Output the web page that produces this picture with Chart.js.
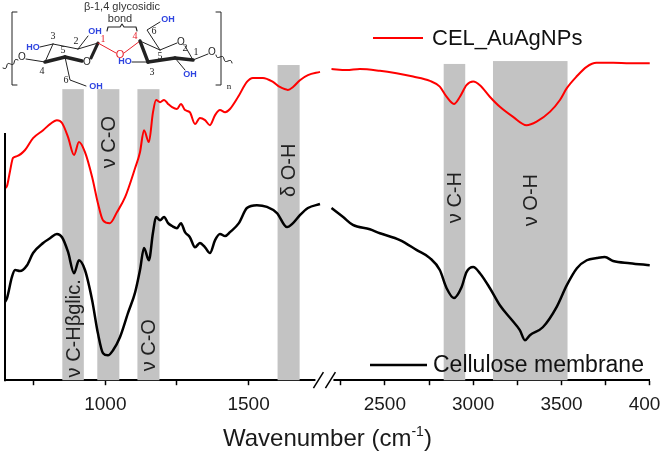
<!DOCTYPE html>
<html>
<head>
<meta charset="utf-8">
<title>FTIR spectra</title>
<script src="https://cdn.jsdelivr.net/npm/chart.js@4.4.0/dist/chart.umd.min.js"></script>
<style>
    html, body { margin: 0; padding: 0; background: #fff; overflow: hidden; }
    #wrap { position: relative; width: 679px; height: 453px; }
</style>
</head>
<body>
<div id="wrap"><canvas id="ftir"></canvas></div>
<script>
// wavenumber (cm-1) and transmittance (a.u., offset)
var redLeftX = [650, 657, 667, 678, 692, 720, 748, 783, 807, 831, 849, 870, 891, 908, 929, 954, 974, 992, 1016, 1041,
    1069, 1104, 1121, 1135, 1152, 1166, 1177, 1191, 1205, 1219, 1233, 1250, 1264, 1278, 1295, 1313, 1330, 1348, 1365,
    1383, 1400, 1418, 1435, 1463, 1494, 1515, 1550, 1585, 1609, 1637, 1655, 1679, 1707, 1749];
var redLeftY = [53.3, 53.9, 57.8, 61.7, 62.2, 63.9, 67.2, 69.4, 71.1, 72.2, 71.4, 67.5, 62.5, 66.1, 63.3, 56.4, 49.2, 44.4, 43.6, 46.7,
    50.8, 58.9, 63.3, 69.4, 66.1, 74.2, 77.8, 77.2, 77.8, 76.7, 75.8, 75.3, 76.7, 75.0, 74.4, 71.1, 72.8, 72.2, 70.8,
    73.6, 75.0, 74.4, 75.3, 78.6, 82.8, 83.9, 83.9, 82.8, 81.4, 80.6, 81.4, 83.3, 84.7, 85.6];

var redRightX = [2198, 2283, 2359, 2472, 2566, 2660, 2755, 2811, 2849, 2891, 2925, 2962, 3000, 3038, 3094, 3151, 3226, 3302,
    3359, 3434, 3491, 3529, 3585, 3642, 3698, 3792, 3887, 4000];
var redRightY = [86.4, 86.1, 86.4, 85.9, 85.2, 84.3, 83.1, 81.5, 78.7, 76.7, 78.7, 81.9, 82.9, 81.9, 78.7, 75.9, 73.1, 70.8,
    71.8, 74.5, 77.8, 81.0, 84.3, 87.0, 88.1, 88.1, 88.0, 88.0];

var blackLeftX = [650, 657, 674, 685, 702, 727, 748, 783, 807, 831, 849, 870, 891, 908, 929, 954, 974, 992, 1009, 1027,
    1051, 1079, 1104, 1121, 1135, 1152, 1166, 1177, 1191, 1205, 1219, 1233, 1250, 1264, 1278, 1295, 1313, 1330, 1348,
    1365, 1383, 1400, 1418, 1435, 1466, 1494, 1529, 1564, 1599, 1634, 1655, 1679, 1707, 1749];
var blackLeftY = [21.7, 22.8, 28.6, 30.6, 30.3, 31.9, 35.3, 38.1, 39.4, 40.6, 39.7, 35.6, 29.7, 33.3, 30.6, 22.2, 13.1, 7.5, 6.9, 8.3,
    11.9, 18.6, 24.4, 30.6, 36.7, 33.3, 40.8, 45.3, 44.4, 45.3, 43.6, 42.8, 42.2, 43.6, 41.1, 39.7, 36.9, 38.1, 36.9,
    35.3, 38.9, 40.6, 40.0, 41.1, 43.6, 47.8, 48.6, 48.1, 46.4, 42.5, 43.6, 45.8, 47.8, 48.9];

var blackRightX = [2198, 2264, 2319, 2415, 2472, 2585, 2681, 2755, 2811, 2849, 2891, 2934, 2962, 3000, 3038, 3094, 3151,
    3219, 3264, 3293, 3321, 3394, 3472, 3530, 3587, 3643, 3700, 3745, 3792, 3887, 4000];
var blackRightY = [47.8, 45.3, 43.1, 41.9, 40.8, 38.9, 36.1, 33.9, 30.6, 25.6, 22.8, 25.8, 30.0, 31.4, 29.7, 25.6, 20.8,
    16.7, 13.9, 11.1, 12.5, 14.7, 20.3, 26.4, 31.1, 33.3, 33.9, 34.2, 33.1, 32.5, 31.9];

var seriesNames = ['CEL_AuAgNPs', 'Cellulose membrane'];

// shaded assignment bands
var bandStart = [850, 972, 1112, 1601, 2833, 3112];
var bandEnd = [925, 1049, 1189, 1678, 2955, 3534];
var bandTop = [80.8, 80.8, 80.8, 87.5, 87.8, 88.6];
var bandLabels = ['ν C-Hβglic.', 'ν C-O', 'ν C-O', 'δ O-H', 'ν C-H', 'ν O-H'];
var bandLabelY = [14.4, 66.1, 9.7, 58.3, 50.7, 50.0];

// broken x axis
var leftRange = [650, 1775];
var rightRange = [2175, 4000];
var leftTicks = [750, 1000, 1250, 1500];
var rightTicks = [2250, 2500, 2750, 3000, 3250, 3500, 3750, 4000];
var labelledTicks = [1000, 1500, 2500, 3000, 3500, 4000];
var yAxisTop = 68.6;

var FONT = '"Liberation Sans", Arial, sans-serif';
var SERIF = '"Liberation Serif", "Times New Roman", serif';

function pts(xs, ys) {
    return xs.map(function (x, i) {
        return { x: x, y: ys[i] };
    });
}

function scaleFor(chart, w) {
    return w < 2000 ? chart.scales.xl : chart.scales.xr;
}

var bandsPlugin = {
    id: 'bands',
    beforeDatasetsDraw: function (chart) {
        var ctx = chart.ctx;
        var y = chart.scales.y;
        ctx.save();
        ctx.fillStyle = '#c3c3c3';
        bandStart.forEach(function (s, i) {
            var xs = scaleFor(chart, s);
            var x0 = xs.getPixelForValue(s);
            var x1 = xs.getPixelForValue(bandEnd[i]);
            var top = y.getPixelForValue(bandTop[i]);
            ctx.fillRect(x0, top, x1 - x0, y.getPixelForValue(0) - top);
        });
        ctx.restore();
    },
    afterDatasetsDraw: function (chart) {
        var ctx = chart.ctx;
        var y = chart.scales.y;
        ctx.save();
        ctx.fillStyle = '#222';
        ctx.font = '20px ' + FONT;
        ctx.textAlign = 'center';
        ctx.textBaseline = 'middle';
        bandLabels.forEach(function (lab, i) {
            var xs = scaleFor(chart, bandStart[i]);
            var cx = (xs.getPixelForValue(bandStart[i]) + xs.getPixelForValue(bandEnd[i])) / 2;
            ctx.save();
            ctx.translate(cx + 1, y.getPixelForValue(bandLabelY[i]));
            ctx.rotate(-Math.PI / 2);
            ctx.fillText(lab, 0, 0);
            ctx.restore();
        });
        ctx.restore();
    }
};

function wavy(ctx, x1, y1, x2, y2) {
    var dx = x2 - x1, dy = y2 - y1, len = Math.sqrt(dx * dx + dy * dy);
    var nx = -dy / len, ny = dx / len;
    ctx.beginPath();
    for (var t = 0; t <= 1.001; t += 0.05) {
        var a = Math.sin(t * Math.PI * 4) * 1.6;
        var px = x1 + dx * t + nx * a, py = y1 + dy * t + ny * a;
        if (t === 0) ctx.moveTo(px, py); else ctx.lineTo(px, py);
    }
    ctx.lineWidth = 1;
    ctx.strokeStyle = '#222';
    ctx.stroke();
}

function drawStructure(ctx) {
    var blue = '#2f45e0', red = '#e8202a', ink = '#222';
    ctx.save();
    ctx.lineCap = 'round';
    ctx.lineJoin = 'round';
    function seg(p, w, c) {
        ctx.beginPath();
        ctx.moveTo(p[0][0], p[0][1]);
        for (var i = 1; i < p.length; i++) ctx.lineTo(p[i][0], p[i][1]);
        ctx.lineWidth = w;
        ctx.strokeStyle = c;
        ctx.stroke();
    }
    function txt(s, x, y, font, c) {
        ctx.font = font;
        ctx.fillStyle = c;
        ctx.textAlign = 'center';
        ctx.textBaseline = 'middle';
        ctx.fillText(s, x, y);
    }
    var oh = 'bold 9px ' + FONT, num = '10px ' + SERIF, at = '10px ' + FONT;

    // brackets
    seg([[17, 12], [12, 12], [12, 85], [17, 85]], 1, ink);
    seg([[216, 12], [221, 12], [221, 85], [216, 85]], 1, ink);
    txt('n', 229, 87, '9px ' + SERIF, ink);
    txt('β-1,4 glycosidic', 122, 7, '11px ' + FONT, '#333');
    txt('bond', 120, 19, '11px ' + FONT, '#333');
    seg([[107, 31], [108, 27], [120, 27], [122, 24], [124, 27], [136, 27], [137, 31]], 1.1, ink);

    // left glucose unit
    var C4 = [45, 62], C3 = [53, 44], C2 = [78, 49], C1 = [98, 43], C5 = [65, 57];
    wavy(ctx, 3, 68, 18, 60);
    txt('O', 22, 57, at, ink);
    seg([[26, 59], C4], 1, ink);
    seg([C4, C3], 1, ink);
    seg([C3, C2], 1, ink);
    seg([C2, C1], 1, ink);
    seg([C4, C5], 3.5, ink);
    seg([C5, [82, 61]], 3.5, ink);
    seg([[91, 58], C1], 3, ink);
    txt('O', 87, 62, at, ink);
    seg([[40, 47], C3], 1, ink);
    txt('HO', 33, 48, oh, blue);
    seg([C2, [88, 36]], 1, ink);
    txt('OH', 95, 32, oh, blue);
    seg([C5, [70, 80], [86, 86]], 1, ink);
    txt('OH', 96, 87, oh, blue);
    txt('3', 53, 36, num, ink);
    txt('2', 76, 41, num, ink);
    txt('5', 63, 50, num, ink);
    txt('4', 42, 71, num, ink);
    txt('6', 66, 80, num, ink);

    // glycosidic bridge
    seg([C1, [116, 53]], 1, red);
    seg([[124, 53], [140, 41]], 1, red);
    txt('O', 120, 55, '11px ' + FONT, red);
    txt('1', 103, 39, num, red);
    txt('4', 135, 36, num, red);

    // right glucose unit
    var D4 = [140, 41], D5 = [160, 50], D1 = [193, 60], D2 = [175, 58], D3 = [148, 62];
    seg([D4, D5], 1, ink);
    seg([D5, [177, 43]], 1, ink);
    seg([[185, 46], D1], 1, ink);
    txt('O', 181, 42, at, ink);
    seg([D4, D3], 3.5, ink);
    seg([D3, D2], 3.5, ink);
    seg([D2, D1], 3.5, ink);
    seg([D1, [208, 54]], 1, ink);
    txt('O', 212, 52, at, ink);
    wavy(ctx, 216, 55, 232, 63);
    seg([D5, [147, 30], [160, 22]], 1, ink);
    txt('OH', 168, 20, oh, blue);
    txt('6', 154, 31, num, ink);
    seg([[132, 62], D3], 1, ink);
    txt('HO', 125, 62, oh, blue);
    seg([D2, [185, 70]], 1, ink);
    txt('OH', 190, 75, oh, blue);
    txt('5', 160, 56, num, ink);
    txt('2', 185, 48, num, ink);
    txt('1', 196, 52, num, ink);
    txt('3', 152, 72, num, ink);
    ctx.restore();
}

var decorPlugin = {
    id: 'decor',
    afterDraw: function (chart) {
        var ctx = chart.ctx;
        var area = chart.chartArea;
        var y = chart.scales.y;
        ctx.save();

        // partial y axis line
        ctx.beginPath();
        ctx.moveTo(area.left, y.getPixelForValue(yAxisTop));
        ctx.lineTo(area.left, area.bottom + 1);
        ctx.lineWidth = 2;
        ctx.strokeStyle = '#000';
        ctx.stroke();

        // axis break
        var bx = chart.scales.xl.right;
        ctx.fillStyle = '#fff';
        ctx.fillRect(bx - 12, area.bottom - 4, 18, 8);
        ctx.lineWidth = 1.5;
        [bx - 9, bx + 3].forEach(function (cx) {
            ctx.beginPath();
            ctx.moveTo(cx - 5, area.bottom + 8);
            ctx.lineTo(cx + 5, area.bottom - 8);
            ctx.stroke();
        });

        // legends
        ctx.textAlign = 'left';
        ctx.textBaseline = 'middle';
        ctx.beginPath();
        ctx.moveTo(373, 38);
        ctx.lineTo(423, 38);
        ctx.strokeStyle = '#ff0000';
        ctx.lineWidth = 2;
        ctx.stroke();
        ctx.fillStyle = '#111';
        ctx.font = '22px ' + FONT;
        ctx.fillText(seriesNames[0], 432, 39);

        ctx.beginPath();
        ctx.moveTo(370, 365);
        ctx.lineTo(427, 365);
        ctx.strokeStyle = '#000';
        ctx.lineWidth = 2.5;
        ctx.stroke();
        ctx.font = '23px ' + FONT;
        ctx.fillText(seriesNames[1], 433, 366);

        // axis title with superscript
        var main = 'Wavenumber (cm', sup = '-1', tail = ')';
        ctx.font = '24px ' + FONT;
        var wMain = ctx.measureText(main).width, wTail = ctx.measureText(tail).width;
        ctx.font = '14px ' + FONT;
        var wSup = ctx.measureText(sup).width;
        var tx = (area.left + area.right) / 2 - (wMain + wSup + wTail) / 2;
        var ty = 446;
        ctx.textBaseline = 'alphabetic';
        ctx.fillStyle = '#1a1a1a';
        ctx.font = '24px ' + FONT;
        ctx.fillText(main, tx, ty);
        ctx.font = '14px ' + FONT;
        ctx.fillText(sup, tx + wMain, ty - 10);
        ctx.font = '24px ' + FONT;
        ctx.fillText(tail, tx + wMain + wSup, ty);

        ctx.restore();
        drawStructure(ctx);
    }
};

function xAxis(range, tickList) {
    return {
        type: 'linear',
        position: 'bottom',
        stack: 'wavenumber',
        stackWeight: 1,
        min: range[0],
        max: range[1],
        afterBuildTicks: function (scale) {
            scale.ticks = tickList.map(function (v) {
                return { value: v };
            });
        },
        ticks: {
            padding: 8,
            color: '#1a1a1a',
            font: { family: FONT, size: 19 },
            maxRotation: 0,
            autoSkip: false,
            callback: function (v) {
                return labelledTicks.indexOf(v) >= 0 ? String(v) : '';
            }
        },
        grid: {
            display: true,
            drawOnChartArea: false,
            drawTicks: true,
            tickLength: 5,
            tickColor: '#000',
            tickWidth: 1.5
        },
        border: { display: true, color: '#000', width: 2 }
    };
}

function line(data, color, width, axis) {
    return {
        data: data,
        xAxisID: axis,
        yAxisID: 'y',
        borderColor: color,
        borderWidth: width,
        pointRadius: 0,
        fill: false,
        cubicInterpolationMode: 'monotone'
    };
}

new Chart(document.getElementById('ftir'), {
    type: 'line',
    data: {
        datasets: [
            line(pts(redLeftX, redLeftY), '#ff0000', 2, 'xl'),
            line(pts(redRightX, redRightY), '#ff0000', 2, 'xr'),
            line(pts(blackLeftX, blackLeftY), '#000000', 2.5, 'xl'),
            line(pts(blackRightX, blackRightY), '#000000', 2.5, 'xr')
        ]
    },
    options: {
        responsive: true,
        maintainAspectRatio: false,
        animation: false,
        parsing: true,
        layout: { padding: { left: 5, top: 20, right: 0, bottom: 29 } },
        plugins: {
            legend: { display: false },
            tooltip: { enabled: false }
        },
        scales: {
            xl: xAxis(leftRange, leftTicks),
            xr: xAxis(rightRange, rightTicks),
            y: { display: false, min: 0, max: 100 }
        }
    },
    plugins: [bandsPlugin, decorPlugin]
});
</script>
</body>
</html>
